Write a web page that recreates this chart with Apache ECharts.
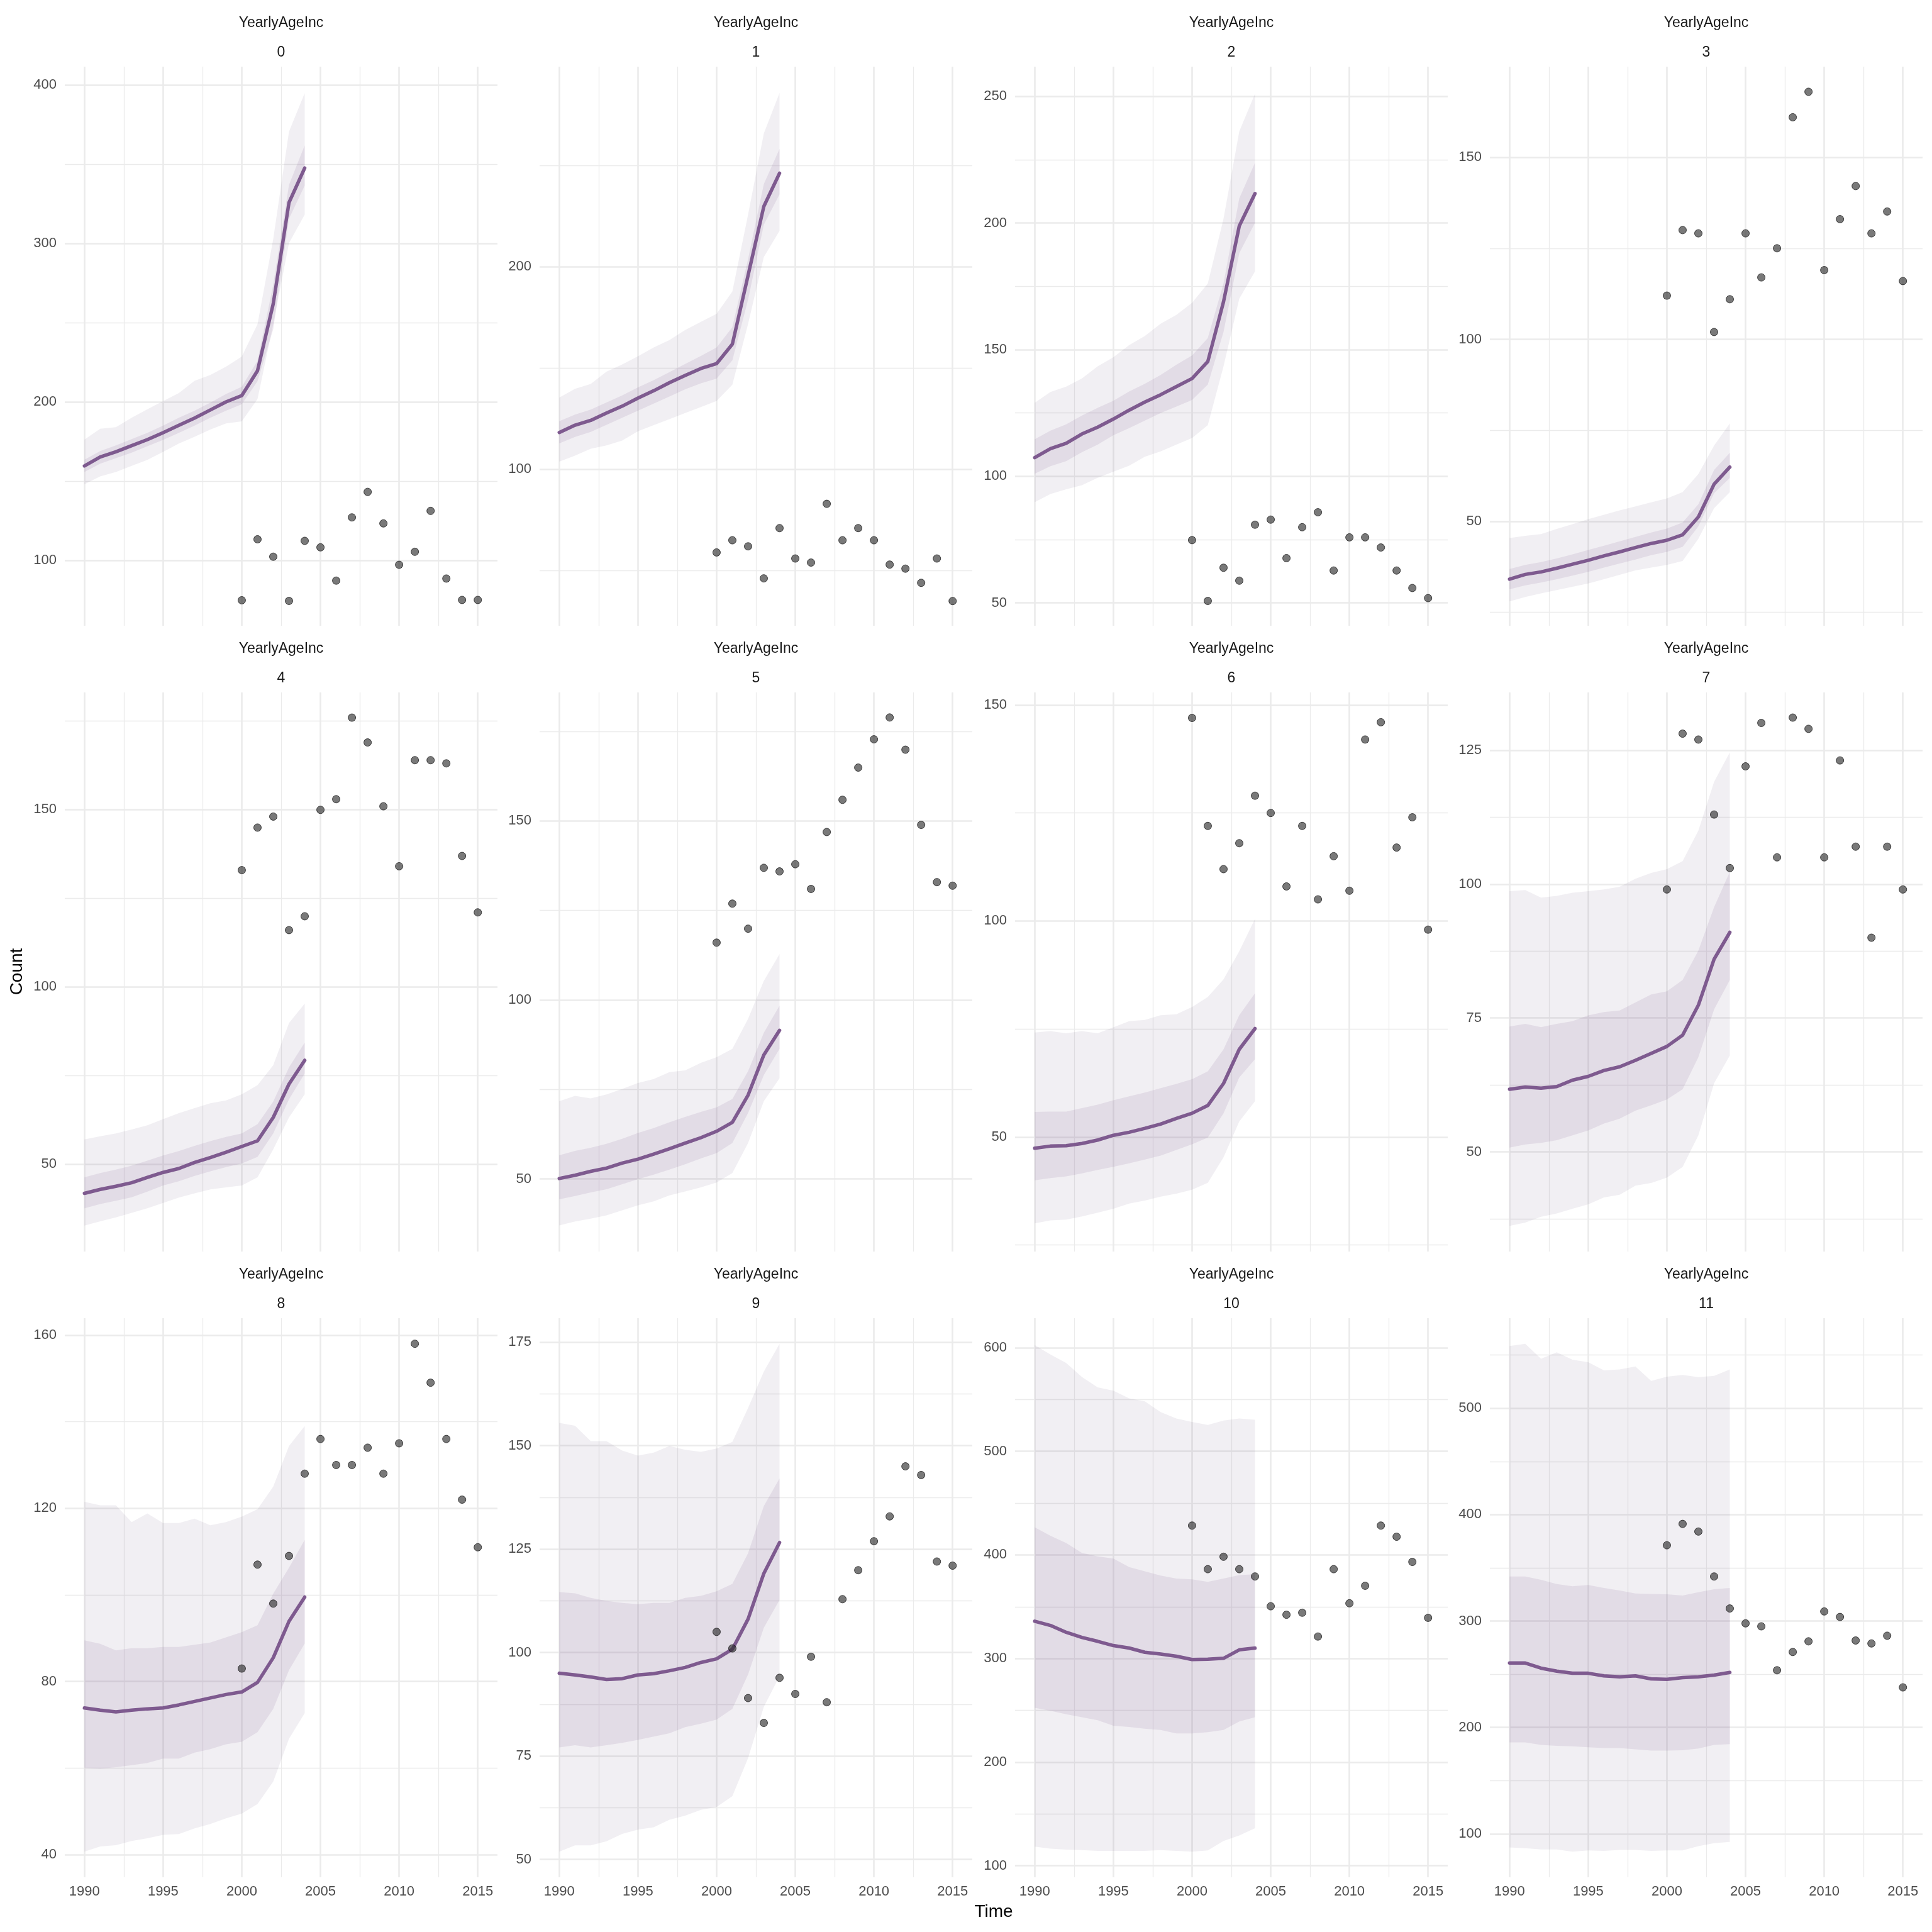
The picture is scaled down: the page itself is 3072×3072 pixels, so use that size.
<!DOCTYPE html>
<html><head><meta charset="utf-8">
<script src="https://cdn.jsdelivr.net/npm/echarts@6/dist/echarts.min.js"></script>
<style>html,body{margin:0;padding:0;background:#fff}#chart{width:3072px;height:3072px}</style>
</head><body><div id="chart"></div>
<script>
// ---------- data ----------
const years = [1990,1991,1992,1993,1994,1995,1996,1997,1998,1999,2000,2001,2002,2003,2004];
const obsYears = [2000,2001,2002,2003,2004,2005,2006,2007,2008,2009,2010,2011,2012,2013,2014,2015];
const facetLabels = ['0','1','2','3','4','5','6','7','8','9','10','11'];
const stripTitle = 'YearlyAgeInc';
const xTicks = [1990,1995,2000,2005,2010,2015];
const xMinorTicks = [1992.5,1997.5,2002.5,2007.5,2012.5];

const median0 = [159.6,165.2,168.5,172.4,176.2,180.6,185.2,189.8,194.9,200.0,204.0,219.7,262.0,325.8,347.6];
const in80Lo0 = [155.8,161,164.5,168,172,176,180.5,185,190,194.5,198.5,213,246,315.6,336.6];
const in80Hi0 = [163.5,169,172.5,176.5,180.5,185,190,194.5,199.5,205,209.5,226,274,337,362];
const out95Lo0 = [148,153,155.8,159.6,163.4,168.5,173.7,178,182.6,186.4,187.7,201.8,249,300.3,318.2];
const out95Hi0 = [176.2,183,184,190,195.4,200.5,205.6,213.3,217,222.2,228.6,249,302.8,370.6,394.9];
const obs0 = [74.8,113.3,102.3,74.4,112.3,108.2,87.2,127.1,143.2,123.3,97.2,105.4,131.2,88.5,75,75];

const median1 = [118.2,121.8,124.2,127.8,131.2,135.2,138.8,142.8,146.4,149.8,152.2,161.8,195.8,229.8,246.2];
const in80Lo1 = [112.8,116,118.5,122,125.5,129,132.5,136,139.5,142.5,144.8,153.8,183.8,220.8,235.8];
const in80Hi1 = [123.8,127,129.5,133,136.5,140.5,144,148,152,156,160.2,170.2,203.8,240.8,258.2];
const out95Lo1 = [103.8,106.8,110.2,111.8,114.2,118.8,121.8,124.8,127.8,130.8,133.8,141.8,171.8,204.8,217.8];
const out95Hi1 = [135.4,139.8,142.2,148.2,151.8,155.8,160.2,163.8,168.8,172.8,176.8,187.8,225.8,265.8,285.8];
const obs1 = [59,65,62,46.2,71,56,54,83,65,71,65,53,51,44,56,35];

const median2 = [107.4,110.9,113.0,116.7,119.4,122.6,126.1,129.3,132.2,135.4,138.6,145.3,168.9,198.8,211.6];
const in80Lo2 = [101,104,106,109.5,112.5,116.2,119,122,125,127.5,130.1,136.2,157,188.1,200.1];
const in80Hi2 = [114.6,118,120.5,124,127,129.8,133.5,136.5,140,144,147.7,154.6,176.1,209.7,223.8];
const out95Lo2 = [89.8,93,94.9,96.5,99.4,101.8,104.2,107.7,109.8,112.5,115.1,120.2,143.4,170.1,180.9];
const out95Hi2 = [129,133.3,135.4,138.6,143.4,147,151.8,155.4,160.2,163.7,168.5,176.1,201.7,236.1,251];
const obs2 = [74.8,50.8,63.9,58.8,80.9,82.9,67.7,79.9,85.8,62.8,75.9,75.9,71.9,62.8,55.9,51.9];

const median3 = [34.1,35.4,36.1,37.1,38.2,39.3,40.5,41.6,42.8,43.9,44.8,46.3,51.2,60.2,64.9];
const in80Lo3 = [31.3,32.4,33.2,34.1,35.1,36.1,37.3,38.4,39.5,40.7,41.6,43,48.6,57.7,61.9];
const in80Hi3 = [36.9,38,38.8,39.8,40.9,42.1,43.3,44.5,45.7,46.9,48,49.7,54.7,64.1,68.8];
const out95Lo3 = [28,29.2,30.2,31.1,32,32.9,34.1,35.3,36.5,37.3,38,39.1,45.2,53.6,58];
const out95Hi3 = [45.4,46,46.5,47.9,49.2,50.6,51.8,53,54.1,55.2,56.3,58,63,70.8,76.9];
const obs3 = [112,130,129.1,102,111,129.1,117,125,161,168,119,133,142.1,129.1,135.1,116];

const median4 = [41.8,42.9,43.8,44.8,46.3,47.7,48.8,50.5,51.9,53.4,55,56.6,63.2,72.6,79.3];
const in80Lo4 = [37.6,38.8,39.7,40.7,42.3,44,45.2,46.7,48,49.2,50.2,52.1,58.7,68.3,75.6];
const in80Hi4 = [46.3,47.5,48.5,49.6,51,52.5,53.7,55.2,56.5,57.7,58.7,61.3,67.7,77.3,84.3];
const out95Lo4 = [32.7,33.9,35,36.3,37.6,39.1,40.6,41.8,42.9,43.5,44,46.3,54.2,63.2,69.7];
const out95Hi4 = [57,57.9,58.7,59.8,61,62.7,64.4,65.8,67.2,68,69.7,72.3,77.9,89.8,95.3];
const obs4 = [132.9,144.9,148,116,119.9,149.9,152.9,175.9,168.9,150.9,134,163.9,163.9,163,136.9,121];

const median5 = [50.1,51,52.1,53,54.4,55.5,56.9,58.4,60,61.5,63.3,65.8,73.4,84.6,91.5];
const in80Lo5 = [44.3,45.2,46.2,47.1,48.5,49.9,51.2,52.6,54.1,55.7,57.2,60,68.4,79,86.3];
const in80Hi5 = [56.6,57.8,58.7,59.8,61.2,62.8,64.2,65.8,67.3,68.7,70,72.3,80.1,90.8,98.4];
const out95Lo5 = [37,38.1,38.9,39.8,41.2,42.6,43.7,45.4,46.5,47.6,49,51.6,60,71.7,78.1];
const out95Hi5 = [71.7,73.2,72.5,73.6,75.1,76.8,77.9,79.8,80.3,82.4,84,86.3,94.7,105.3,112.8];
const obs5 = [116,126.9,119.9,136.9,135.9,137.9,131,146.9,155.9,164.9,172.8,178.9,169.9,148.9,132.9,131.9];

const median6 = [47.4,47.9,48,48.5,49.3,50.4,51.1,52,53,54.3,55.5,57.3,62.4,70.3,75.1];
const in80Lo6 = [40,40.5,40.9,41.6,42.4,43.1,43.9,44.8,45.7,47,48.3,49.9,55.5,63.8,68];
const in80Hi6 = [55.8,55.9,55.9,56.7,57.5,58.5,59.4,60.3,61.3,62.3,63.4,65.2,70.3,78.2,83.3];
const out95Lo6 = [30,30.7,30.9,31.6,32.5,33.4,34.6,35.3,36.2,36.9,37.8,39.4,45.3,53.6,58.3];
const out95Hi6 = [74.2,74.5,74,74.5,74,75.4,76.8,77.1,78.2,78.4,80.1,82.4,86.5,93,100.5];
const obs6 = [147,122,112,118,129,125,108,122,105,115,107,142,146,117,124,98];

const median7 = [61.7,62.1,61.9,62.2,63.4,64.1,65.2,65.9,67.1,68.4,69.7,71.8,77.4,86,91];
const in80Lo7 = [50.8,51.4,51.7,52.2,53.1,54,55.3,56.2,57.7,58.7,59.8,61.7,67.7,76.6,82.1];
const in80Hi7 = [73.4,73.9,73.3,73.9,74.4,75.5,76.1,76.4,77.9,79.4,80,82.1,87.6,95.7,102.3];
const out95Lo7 = [36.2,36.8,37.9,38.5,39.4,40.2,41.5,42,43.7,44.2,45.2,47.2,53.1,62.8,68];
const out95Hi7 = [98.7,98.9,97.5,97.8,98.4,98.7,99,99.5,101,102.1,102.8,104.3,110,119.1,124.6];
const obs7 = [99,128.1,127,113,103,122,130.1,105,131.1,129,105,123.1,107,90,107,99];

const median8 = [73.9,73.4,73,73.4,73.7,73.9,74.6,75.4,76.2,77,77.6,79.8,85.5,93.9,99.5];
const in80Lo8 = [60.1,59.9,60.2,60.7,61.2,62.2,62.2,63.6,64.4,65.5,66.1,68.3,73.7,82.6,88.8];
const in80Hi8 = [89.5,88.7,87.2,87.7,87.7,88,88,88.5,89,90.2,91.4,93,100.3,106.3,112.7];
const out95Lo8 = [40.7,41.9,42.2,43.2,43.8,44.6,44.8,46.1,47.1,48.4,49.5,51.7,56.9,66.8,72.7];
const out95Hi8 = [121.5,120.7,120.7,116.8,118.8,116.6,116.6,117.6,116.1,116.8,118.1,119.8,125,134.4,139];
const obs8 = [83,107,98,109,128,136,130,130,134,128,135,158,149,136,122,111];

const median9 = [95,94.6,94.1,93.5,93.7,94.6,94.9,95.6,96.4,97.6,98.5,100.8,108.1,119.1,126.6];
const in80Lo9 = [77.1,77.6,77.1,77.6,78.2,78.9,79.7,80.5,82,82.8,83.8,86.4,94.7,106,112.7];
const in80Hi9 = [114.6,114.3,113.2,112.5,112,111.7,112,112,113.2,113.7,114.8,116.6,124,135.4,142.1];
const out95Lo9 = [51.9,53.4,53.4,54.4,56.2,57.2,57.8,59.6,60.6,62,62.7,65.3,74.5,86.9,94.3];
const out95Hi9 = [155.5,154.8,151.1,151.1,148.8,147.6,148.3,149.9,149,148.5,149.3,150.9,159.1,167.9,174.6];
const obs9 = [105,101,89,83,93.9,90,99,88,112.9,119.9,126.9,132.9,145,142.9,122,121];

const median10 = [336,331.9,325.3,320.3,316.6,312.5,310.1,306,304.3,302.2,299,299.3,300.2,308.4,310.1];
const in80Lo10 = [252.4,249.5,246.2,243.3,240.4,235.1,233.9,232.2,231,227.7,227.7,228.9,231,239.2,243.3];
const in80Hi10 = [426.6,418.4,411.4,401.9,398.6,396.5,388.3,384.2,380.1,377.2,376.4,373.9,377.2,380.5,381.3];
const out95Lo10 = [118.5,116.5,115.6,115.2,114.4,114.4,114.4,114.4,115.2,114.4,113.6,114.8,123.9,129.2,136.2];
const out95Hi10 = [602.5,593.4,585.2,571.6,561.7,558.4,551,548.1,537.8,531.6,528.3,525.4,529.6,531.6,530.4];
const obs10 = [428.3,386.2,398.2,386.2,379.2,350.4,342.2,344.2,321.2,386.2,353.3,370.2,428.3,417.5,393.2,339.3];

const median11 = [260.5,260.5,255.7,252.9,250.9,250.9,248.4,247.6,248.4,245.6,245.2,246.8,247.6,249.2,251.7];
const in80Lo11 = [185.9,185.9,183.5,182.6,182.2,181.4,180.6,180.6,179.4,178.2,178.2,178.6,180.2,183.5,184.3];
const in80Hi11 = [341.9,341.9,338.7,334.7,332.7,333.9,331.1,328.7,325.9,325.5,325.1,323.9,327.1,329.9,331.1];
const out95Lo11 = [87.2,86.4,85.2,85.2,83.2,84.4,84,84.8,84.8,84,84.4,84.4,88.4,91.2,92.4];
const out95Hi11 = [558.6,560.6,546.5,552.6,545.7,543.3,535.7,536.5,539.3,525.7,529.7,531.3,529.3,530.5,536.5];
const obs11 = [371.2,391.3,384.1,341.9,311.8,297.8,295,253.7,270.9,280.9,309,303.8,281.7,278.9,286.2,237.6];

// y-axis limits and tick labels per facet
const yMinList = [58.7,22.8,41.0,21.3,25.4,29.7,23.5,31.4,34.8,45.7,88.9,59.1];
const yMaxList = [411.6,298.8,261.7,174.9,183,185.9,152.9,135.8,163.9,180.8,628.4,584.7];
const yTicks0 = [100,200,300,400];        const yMinor0 = [150,250,350];
const yTicks1 = [100,200];                const yMinor1 = [50,150,250];
const yTicks2 = [50,100,150,200,250];     const yMinor2 = [75,125,175,225];
const yTicks3 = [50,100,150];             const yMinor3 = [25,75,125];
const yTicks4 = [50,100,150];             const yMinor4 = [75,125,175];
const yTicks5 = [50,100,150];             const yMinor5 = [75,125,175];
const yTicks6 = [50,100,150];             const yMinor6 = [25,75,125];
const yTicks7 = [50,75,100,125];          const yMinor7 = [37.5,62.5,87.5,112.5];
const yTicks8 = [40,80,120,160];          const yMinor8 = [60,100,140];
const yTicks9 = [50,75,100,125,150,175];  const yMinor9 = [62.5,87.5,112.5,137.5,162.5];
const yTicks10 = [100,200,300,400,500,600]; const yMinor10 = [150,250,350,450,550];
const yTicks11 = [100,200,300,400,500];   const yMinor11 = [150,250,350,450,550];

// ---------- assembly ----------
const medians = [median0,median1,median2,median3,median4,median5,median6,median7,median8,median9,median10,median11];
const in80Lo = [in80Lo0,in80Lo1,in80Lo2,in80Lo3,in80Lo4,in80Lo5,in80Lo6,in80Lo7,in80Lo8,in80Lo9,in80Lo10,in80Lo11];
const in80Hi = [in80Hi0,in80Hi1,in80Hi2,in80Hi3,in80Hi4,in80Hi5,in80Hi6,in80Hi7,in80Hi8,in80Hi9,in80Hi10,in80Hi11];
const out95Lo = [out95Lo0,out95Lo1,out95Lo2,out95Lo3,out95Lo4,out95Lo5,out95Lo6,out95Lo7,out95Lo8,out95Lo9,out95Lo10,out95Lo11];
const out95Hi = [out95Hi0,out95Hi1,out95Hi2,out95Hi3,out95Hi4,out95Hi5,out95Hi6,out95Hi7,out95Hi8,out95Hi9,out95Hi10,out95Hi11];
const obsAll = [obs0,obs1,obs2,obs3,obs4,obs5,obs6,obs7,obs8,obs9,obs10,obs11];
const yTicksAll = [yTicks0,yTicks1,yTicks2,yTicks3,yTicks4,yTicks5,yTicks6,yTicks7,yTicks8,yTicks9,yTicks10,yTicks11];
const yMinorAll = [yMinor0,yMinor1,yMinor2,yMinor3,yMinor4,yMinor5,yMinor6,yMinor7,yMinor8,yMinor9,yMinor10,yMinor11];

const FONT = '"Liberation Sans", Arial, Helvetica, sans-serif';
const colLeft = [103, 858, 1614, 2369];
const rowTop = [106, 1101, 2096];
const PW = 688, PH = 889;
const LINE_COLOR = '#7E5A8F';
const OUTER_FILL = 'rgba(110,90,125,0.095)';
const INNER_FILL = 'rgba(128,88,144,0.124)';
const GRID_COLOR = '#EBEBEB';

const grids = [], xAxes = [], yAxes = [], series = [], graphics = [];

function ribbon(gi, lo, hi, fill, z) {
  return {
    type: 'custom', xAxisIndex: gi, yAxisIndex: gi, z: z, silent: true, animation: false,
    data: years.map((y, k) => [y, lo[k], hi[k]]),
    encode: { x: 0, y: [1, 2] },
    renderItem: function (params, api) {
      if (params.dataIndex !== 0) return null;
      const pts = [];
      for (let k = 0; k < years.length; k++) pts.push(api.coord([years[k], hi[k]]));
      for (let k = years.length - 1; k >= 0; k--) pts.push(api.coord([years[k], lo[k]]));
      return { type: 'polygon', shape: { points: pts }, style: { fill: fill } };
    }
  };
}

const plainNum = v => String(v);

for (let i = 0; i < 12; i++) {
  const r = Math.floor(i / 4), c = i % 4;
  const left = colLeft[c], top = rowTop[r];
  grids.push({ left: left, top: top, width: PW, height: PH, containLabel: false, outerBoundsMode: 'none' });
  xAxes.push({
    gridIndex: i, type: 'value', min: 1988.75, max: 2016.25,
    axisLine: { show: false }, axisTick: { show: false }, splitLine: { show: false },
    axisLabel: { show: r === 2, customValues: xTicks, formatter: plainNum, margin: 12, fontSize: 22, color: '#4D4D4D', fontFamily: FONT }
  });
  yAxes.push({
    gridIndex: i, type: 'value', min: yMinList[i], max: yMaxList[i],
    axisLine: { show: false }, axisTick: { show: false }, splitLine: { show: false },
    axisLabel: { customValues: yTicksAll[i], formatter: plainNum, margin: 13, fontSize: 22, color: '#4D4D4D', fontFamily: FONT }
  });

  const gridLines = []
    .concat(xTicks.map(v => ({ xAxis: v, lineStyle: { width: 2.6 } })))
    .concat(xMinorTicks.map(v => ({ xAxis: v, lineStyle: { width: 1.3 } })))
    .concat(yTicksAll[i].map(v => ({ yAxis: v, lineStyle: { width: 2.6 } })))
    .concat(yMinorAll[i].map(v => ({ yAxis: v, lineStyle: { width: 1.3 } })));

  series.push(ribbon(i, out95Lo[i], out95Hi[i], OUTER_FILL, 2));
  series.push(ribbon(i, in80Lo[i], in80Hi[i], INNER_FILL, 2));
  series.push({
    type: 'line', xAxisIndex: i, yAxisIndex: i, z: 3, animation: false, silent: true,
    data: years.map((y, k) => [y, medians[i][k]]),
    symbol: 'none', showSymbol: false,
    lineStyle: { color: LINE_COLOR, width: 5.5, join: 'round', cap: 'round' },
    markLine: {
      z: 1, silent: true, animation: false, symbol: ['none', 'none'],
      label: { show: false }, emphasis: { disabled: true },
      lineStyle: { color: GRID_COLOR, type: 'solid', width: 2.6 },
      data: gridLines
    }
  });
  series.push({
    type: 'scatter', xAxisIndex: i, yAxisIndex: i, z: 4, animation: false, silent: true,
    data: obsYears.map((y, k) => [y, obsAll[i][k]]),
    symbol: 'circle', symbolSize: 12,
    itemStyle: { color: 'rgba(40,40,40,0.78)', borderColor: 'rgba(0,0,0,0.85)', borderWidth: 1 }
  });

  const cx = left + PW / 2;
  graphics.push({ type: 'text', x: cx, y: top - 69, silent: true,
    style: { text: stripTitle, font: '23px ' + FONT, fill: '#1A1A1A', textAlign: 'center', textVerticalAlign: 'middle', align: 'center', verticalAlign: 'middle' } });
  graphics.push({ type: 'text', x: cx, y: top - 22, silent: true,
    style: { text: facetLabels[i], font: '23px ' + FONT, fill: '#1A1A1A', textAlign: 'center', textVerticalAlign: 'middle', align: 'center', verticalAlign: 'middle' } });
}

graphics.push({ type: 'text', x: 1580, y: 3040, silent: true,
  style: { text: 'Time', font: '28px ' + FONT, fill: '#000000', textAlign: 'center', textVerticalAlign: 'middle', align: 'center', verticalAlign: 'middle' } });
graphics.push({ type: 'text', x: 27, y: 1545, rotation: Math.PI / 2, silent: true,
  style: { text: 'Count', font: '28px ' + FONT, fill: '#000000', textAlign: 'center', textVerticalAlign: 'middle', align: 'center', verticalAlign: 'middle' } });

const chart = echarts.init(document.getElementById('chart'), null, { renderer: 'canvas' });
chart.setOption({
  backgroundColor: '#FFFFFF',
  animation: false,
  grid: grids,
  xAxis: xAxes,
  yAxis: yAxes,
  series: series,
  graphic: { elements: graphics }
});
</script>
</body></html>
